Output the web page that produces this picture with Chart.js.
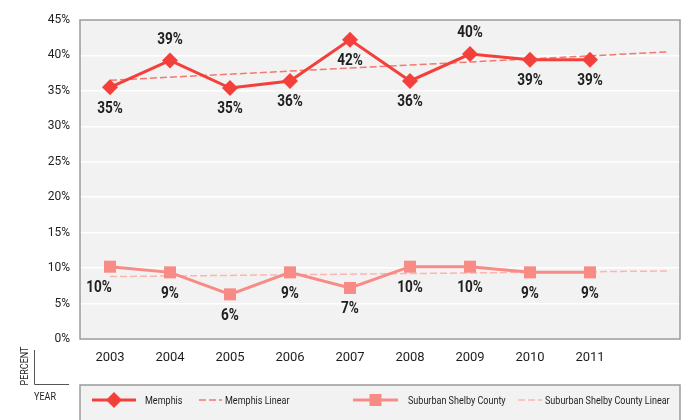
<!DOCTYPE html>
<html>
<head>
<meta charset="utf-8">
<script src="https://cdn.jsdelivr.net/npm/chart.js@4/dist/chart.umd.min.js"></script>
<style>
  html, body { margin: 0; padding: 0; background: #fff; }
  #wrap { width: 700px; height: 420px; position: relative; }
</style>
</head>
<body>
<div id="wrap"><canvas id="chart"></canvas></div>
<script>
// Chart data
const years = [2003, 2004, 2005, 2006, 2007, 2008, 2009, 2010, 2011];
const memphis = [35.5, 39.3, 35.4, 36.4, 42.2, 36.4, 40.2, 39.4, 39.4];
const suburban = [10.2, 9.4, 6.3, 9.4, 7.2, 10.2, 10.2, 9.4, 9.4];
const memphisText = ['35%', '39%', '35%', '36%', '42%', '36%', '40%', '39%', '39%'];
const suburbanText = ['10%', '9%', '6%', '9%', '7%', '10%', '10%', '9%', '9%'];

// Linear trend end points (as drawn)
const trendX = [2003, 2012.3];
const memphisTrend = [36.5, 40.5];
const suburbanTrend = [8.8, 9.6];

const yTicks = [0, 5, 10, 15, 20, 25, 30, 35, 40, 45];

const colors = {
  memphis: '#f4403a',
  memphisLinear: '#f47870',
  suburban: '#f98b86',
  suburbanLinear: '#fbb6b0',
  plotBg: '#f2f2f2',
  frame: '#9a9a9a',
  text: '#1e1e1e'
};

// draw horizontally squeezed text (the reference uses a condensed face)
function condText(ctx, text, x, y, font, sx, align) {
  ctx.save();
  ctx.font = font;
  ctx.translate(x, y);
  ctx.scale(sx, 1);
  ctx.textAlign = align || 'center';
  ctx.textBaseline = 'middle';
  ctx.fillStyle = colors.text;
  ctx.fillText(text, 0, 0);
  ctx.restore();
}

const plotFrame = {
  id: 'plotFrame',
  beforeDraw(chart) {
    const { ctx, chartArea: a } = chart;
    ctx.save();
    ctx.fillStyle = colors.plotBg;
    ctx.fillRect(a.left, a.top, a.right - a.left, a.bottom - a.top);
    ctx.restore();
  },
  afterDraw(chart) {
    const { ctx, chartArea: a } = chart;
    ctx.save();
    ctx.strokeStyle = colors.frame;
    ctx.lineWidth = 1.5;
    ctx.strokeRect(a.left, a.top, a.right - a.left, a.bottom - a.top);
    ctx.restore();
  }
};

// value labels next to the points
const pointLabels = {
  id: 'pointLabels',
  afterDatasetsDraw(chart, args, opts) {
    const { ctx } = chart;
    opts.sets.forEach(set => {
      const meta = chart.getDatasetMeta(set.index);
      meta.data.forEach((pt, i) => {
        const dy = set.place[i] === 'above' ? -21 : 21;
        const dx = (set.dx && set.dx[i]) || 0;
        condText(ctx, set.text[i], pt.x + dx, pt.y + dy, 'bold 17px Roboto', 0.8);
      });
    });
  }
};

// axis corner caption and the boxed legend
const extras = {
  id: 'extras',
  afterDraw(chart) {
    const { ctx } = chart;
    const ds = chart.data.datasets;

    ctx.save();
    ctx.strokeStyle = '#555';
    ctx.lineWidth = 1;
    ctx.beginPath();
    ctx.moveTo(34.5, 350);
    ctx.lineTo(34.5, 384.5);
    ctx.lineTo(69, 384.5);
    ctx.stroke();
    ctx.restore();

    ctx.save();
    ctx.translate(25, 366);
    ctx.rotate(-Math.PI / 2);
    condText(ctx, 'PERCENT', 0, 0, '10px Roboto', 0.9);
    ctx.restore();
    condText(ctx, 'YEAR', 45, 397, '10px Roboto', 0.9);

    // legend box
    ctx.save();
    ctx.fillStyle = colors.plotBg;
    ctx.fillRect(80, 385, 600, 45);
    ctx.strokeStyle = colors.frame;
    ctx.lineWidth = 1.5;
    ctx.strokeRect(80, 385, 600, 45);
    ctx.restore();

    const ly = 400;
    const items = [
      { d: ds[0], x0: 92, x1: 136, tx: 145 },
      { d: ds[2], x0: 199, x1: 222, tx: 225 },
      { d: ds[1], x0: 353, x1: 398, tx: 408 },
      { d: ds[3], x0: 518, x1: 542, tx: 545 }
    ];
    items.forEach(it => {
      ctx.save();
      ctx.strokeStyle = it.d.borderColor;
      ctx.lineWidth = it.d.borderWidth;
      ctx.setLineDash(it.d.borderDash || []);
      ctx.beginPath();
      ctx.moveTo(it.x0, ly);
      ctx.lineTo(it.x1, ly);
      ctx.stroke();
      ctx.setLineDash([]);
      if (it.d.pointRadius) {
        ctx.fillStyle = it.d.pointBackgroundColor;
        Chart.helpers.drawPoint(ctx, {
          pointStyle: it.d.pointStyle,
          radius: it.d.pointRadius,
          rotation: 0,
          borderWidth: 0
        }, (it.x0 + it.x1) / 2, ly);
      }
      ctx.restore();
      condText(ctx, it.d.label, it.tx, ly + 1, '11px Roboto', 0.82, 'left');
    });
  }
};

const toXY = (xs, ys) => xs.map((x, i) => ({ x: x, y: ys[i] }));

new Chart(document.getElementById('chart'), {
  type: 'line',
  data: {
    datasets: [
      {
        label: 'Memphis',
        data: toXY(years, memphis),
        borderColor: colors.memphis,
        backgroundColor: colors.memphis,
        pointBackgroundColor: colors.memphis,
        pointBorderColor: colors.memphis,
        borderWidth: 3,
        pointStyle: 'rectRot',
        pointRadius: 8,
        pointBorderWidth: 0,
        tension: 0
      },
      {
        label: 'Suburban Shelby County',
        data: toXY(years, suburban),
        borderColor: colors.suburban,
        backgroundColor: colors.suburban,
        pointBackgroundColor: colors.suburban,
        pointBorderColor: colors.suburban,
        borderWidth: 3,
        pointStyle: 'rect',
        pointRadius: 8.5,
        pointBorderWidth: 0,
        tension: 0
      },
      {
        label: 'Memphis Linear',
        data: toXY(trendX, memphisTrend),
        borderColor: colors.memphisLinear,
        borderWidth: 1.5,
        borderDash: [7, 3],
        pointRadius: 0
      },
      {
        label: 'Suburban Shelby County Linear',
        data: toXY(trendX, suburbanTrend),
        borderColor: colors.suburbanLinear,
        borderWidth: 1.5,
        borderDash: [7, 3],
        pointRadius: 0
      }
    ]
  },
  options: {
    responsive: true,
    maintainAspectRatio: false,
    animation: false,
    layout: {
      padding: { left: 0, right: 20, top: 20, bottom: 0 }
    },
    plugins: {
      legend: { display: false },
      tooltip: { enabled: false },
      pointLabels: {
        sets: [
          {
            index: 0,
            text: memphisText,
            place: ['below', 'above', 'below', 'below', 'below', 'below', 'above', 'below', 'below']
          },
          {
            index: 1,
            text: suburbanText,
            place: ['below', 'below', 'below', 'below', 'below', 'below', 'below', 'below', 'below'],
            dx: [-11, 0, 0, 0, 0, 0, 0, 0, 0]
          }
        ]
      }
    },
    scales: {
      x: {
        type: 'linear',
        min: 2002.5,
        max: 2012.5,
        afterBuildTicks(scale) {
          scale.ticks = years.map(v => ({ value: v }));
        },
        afterFit(scale) {
          scale.height = 81;
        },
        grid: { display: false, drawTicks: false },
        border: { display: false },
        ticks: {
          padding: 11,
          color: colors.text,
          font: { family: 'Roboto', size: 13 },
          callback: v => String(v)
        }
      },
      y: {
        min: 0,
        max: 45,
        afterBuildTicks(scale) {
          scale.ticks = yTicks.map(v => ({ value: v }));
        },
        afterFit(scale) {
          scale.width = 80;
        },
        grid: { color: '#ffffff', lineWidth: 1.5, drawTicks: false },
        border: { display: false },
        ticks: {
          padding: 10,
          color: colors.text,
          font: { family: 'Roboto', size: 12 },
          callback: v => v + '%'
        }
      }
    }
  },
  plugins: [plotFrame, pointLabels, extras]
});
</script>
</body>
</html>
